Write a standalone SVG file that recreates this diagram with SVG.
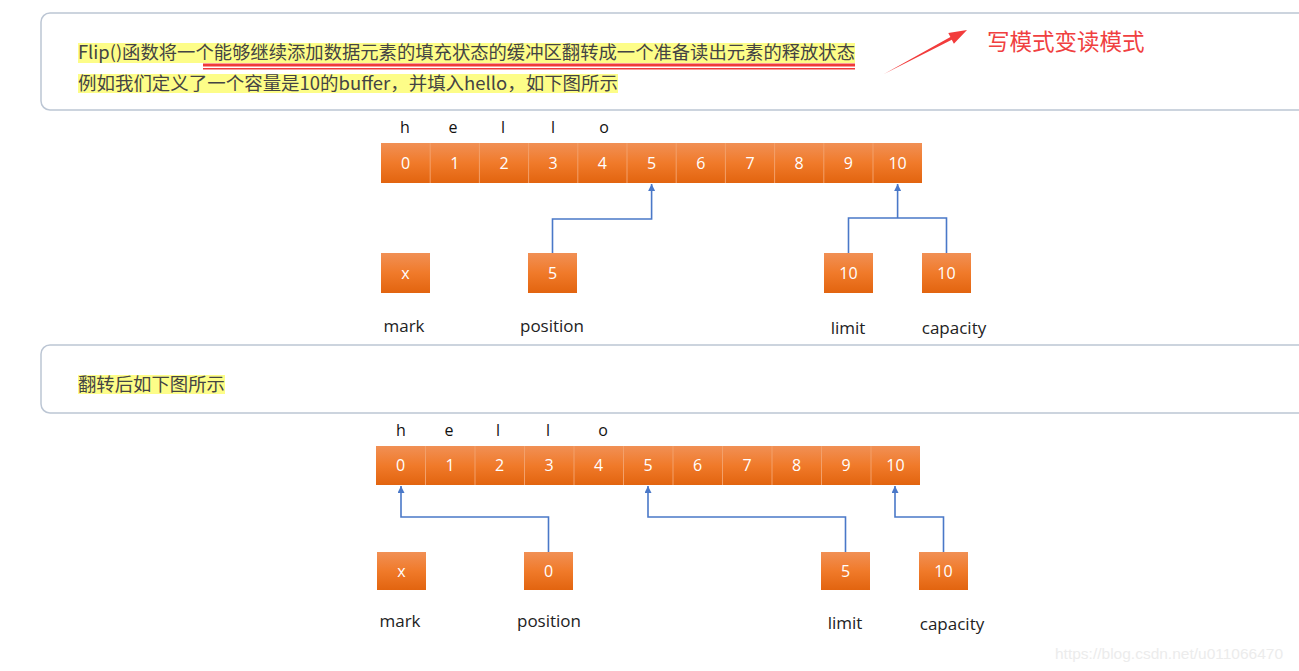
<svg xmlns="http://www.w3.org/2000/svg" width="1299" height="671" viewBox="0 0 1299 671">
<style>
.panel{fill:#fff;stroke:#bcc6d4;stroke-width:1.5}
.cn{font-family:"Noto Sans CJK SC",sans-serif;font-size:18px;fill:#444}
.hl{fill:#fdfd88}
.cell{fill:url(#og)}
.sep{stroke:#f3a06a;stroke-width:1}
.num{font-family:"Open Sans","Noto Sans",sans-serif;font-size:16px;fill:#fff;text-anchor:middle}
.let{font-family:"Open Sans","Noto Sans",sans-serif;font-size:16px;fill:#111;text-anchor:middle}
.lbl{font-family:"Open Sans","Noto Sans",sans-serif;font-size:17px;fill:#222;text-anchor:middle}
.conn{fill:none;stroke:#4a78c8;stroke-width:1.6}
</style>
<defs>
<linearGradient id="og" x1="0" y1="0" x2="0" y2="1">
<stop offset="0" stop-color="#f19055"/>
<stop offset="0.5" stop-color="#f07a2a"/>
<stop offset="1" stop-color="#e2640f"/>
</linearGradient>
<marker id="ah" viewBox="0 0 10 10" refX="10" refY="5" markerWidth="7" markerHeight="7" markerUnits="userSpaceOnUse" orient="auto">
<path d="M0,0 L10,5 L0,10 z" fill="#4a78c8"/>
</marker>
</defs>
<rect width="1299" height="671" fill="#fff"/>

<g id="panel1">
<rect class="panel" x="41" y="13" width="1280" height="97" rx="9"/>
<rect class="hl" x="78" y="43" width="777" height="20"/>
<rect class="hl" x="78" y="74" width="540" height="19"/>
<text class="cn" x="78" y="59" textLength="777" lengthAdjust="spacingAndGlyphs">Flip()函数将一个能够继续添加数据元素的填充状态的缓冲区翻转成一个准备读出元素的释放状态</text>
<text class="cn" x="78" y="90" textLength="540" lengthAdjust="spacingAndGlyphs">例如我们定义了一个容量是10的buffer，并填入hello，如下图所示</text>
<rect x="203" y="63.5" width="652" height="3" fill="#f03a3a"/>
<rect x="203" y="68" width="652" height="1.5" fill="#f03a3a"/>
</g>

<g id="note">
<polygon points="884,74 951.8,39.7 953.9,43.7 967,30 948.3,33.1 950.4,37.1" fill="#f23c3c"/>
<text x="987" y="50" style="font-family:'Noto Sans CJK SC',sans-serif;font-size:22.5px;fill:#f04040">写模式变读模式</text>
</g>

<g id="array1">
<rect class="cell" x="381" y="143" width="541" height="40"/>
<path class="sep" d="M430.2,143V183M479.4,143V183M528.6,143V183M577.8,143V183M627,143V183M676.2,143V183M725.4,143V183M774.6,143V183M823.8,143V183M873,143V183"/>
<text class="num" x="405.6" y="169">0</text>
<text class="num" x="454.8" y="169">1</text>
<text class="num" x="504" y="169">2</text>
<text class="num" x="553.2" y="169">3</text>
<text class="num" x="602.4" y="169">4</text>
<text class="num" x="651.6" y="169">5</text>
<text class="num" x="700.8" y="169">6</text>
<text class="num" x="750" y="169">7</text>
<text class="num" x="799.2" y="169">8</text>
<text class="num" x="848.4" y="169">9</text>
<text class="num" x="897.6" y="169">10</text>
<text class="let" x="405" y="133">h</text>
<text class="let" x="453" y="133">e</text>
<text class="let" x="503" y="133">l</text>
<text class="let" x="553" y="133">l</text>
<text class="let" x="604" y="133">o</text>
</g>

<g id="mark1"><rect class="cell" x="381" y="253" width="49" height="40"/><text class="num" x="405.5" y="279">x</text><text class="lbl" x="404" y="332">mark</text></g>
<g id="position1"><rect class="cell" x="528" y="253" width="49" height="40"/><text class="num" x="552.5" y="279">5</text><text class="lbl" x="552" y="332">position</text></g>
<g id="limit1"><rect class="cell" x="824" y="253" width="49" height="40"/><text class="num" x="848.5" y="279">10</text><text class="lbl" x="848" y="334">limit</text></g>
<g id="capacity1"><rect class="cell" x="922" y="253" width="49" height="40"/><text class="num" x="946.5" y="279">10</text><text class="lbl" x="954" y="334">capacity</text></g>

<g id="panel2">
<rect class="panel" x="41" y="345" width="1280" height="68" rx="9"/>
<rect class="hl" x="78" y="375" width="147" height="19"/>
<text class="cn" x="78" y="391" textLength="147" lengthAdjust="spacingAndGlyphs">翻转后如下图所示</text>
</g>

<g id="array2">
<rect class="cell" x="376" y="446" width="544" height="39"/>
<path class="sep" d="M425.5,446V485M475,446V485M524.5,446V485M574,446V485M623.5,446V485M673,446V485M722.5,446V485M772,446V485M821.5,446V485M871,446V485"/>
<text class="num" x="400.7" y="471">0</text>
<text class="num" x="450.2" y="471">1</text>
<text class="num" x="499.7" y="471">2</text>
<text class="num" x="549.2" y="471">3</text>
<text class="num" x="598.7" y="471">4</text>
<text class="num" x="648.2" y="471">5</text>
<text class="num" x="697.7" y="471">6</text>
<text class="num" x="747.2" y="471">7</text>
<text class="num" x="796.7" y="471">8</text>
<text class="num" x="846.2" y="471">9</text>
<text class="num" x="895.5" y="471">10</text>
<text class="let" x="401" y="436">h</text>
<text class="let" x="449" y="436">e</text>
<text class="let" x="498" y="436">l</text>
<text class="let" x="548" y="436">l</text>
<text class="let" x="603" y="436">o</text>
</g>

<g id="mark2"><rect class="cell" x="377" y="552" width="49" height="38"/><text class="num" x="401.5" y="577">x</text><text class="lbl" x="400" y="627">mark</text></g>
<g id="position2"><rect class="cell" x="524" y="552" width="49" height="38"/><text class="num" x="548.5" y="577">0</text><text class="lbl" x="549" y="627">position</text></g>
<g id="limit2"><rect class="cell" x="821" y="552" width="49" height="38"/><text class="num" x="845.5" y="577">5</text><text class="lbl" x="845" y="629">limit</text></g>
<g id="capacity2"><rect class="cell" x="919" y="552" width="49" height="38"/><text class="num" x="943.5" y="577">10</text><text class="lbl" x="952" y="630">capacity</text></g>

<g id="connectors">
<path class="conn" d="M552.5,253V219H651.6V184" marker-end="url(#ah)"/>
<path class="conn" d="M848.5,253V218H946.5V253"/>
<path class="conn" d="M897.6,218V184" marker-end="url(#ah)"/>
<path class="conn" d="M548.5,552V517H401V486" marker-end="url(#ah)"/>
<path class="conn" d="M845.5,552V517H648V486" marker-end="url(#ah)"/>
<path class="conn" d="M943.5,552V517H895V486" marker-end="url(#ah)"/>
</g>

<text x="1055" y="659" style="font-family:'Liberation Sans',sans-serif;font-size:15.5px;fill:#ececec">https://blog.csdn.net/u011066470</text>
</svg>
